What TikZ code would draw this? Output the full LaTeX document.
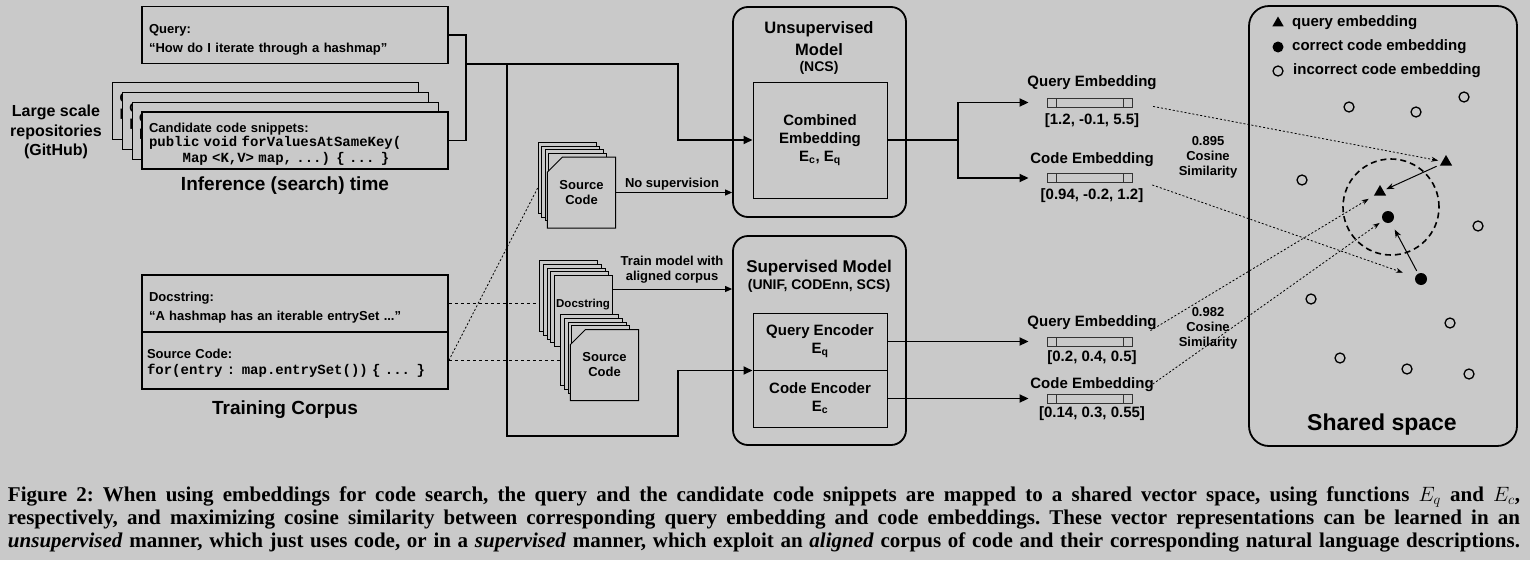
\documentclass[tikz,border=0pt]{standalone}
\usepackage{fontspec}
\setmainfont{Liberation Serif}
\setsansfont{Liberation Sans}
\setmonofont{Liberation Mono}
\usetikzlibrary{positioning,shapes.geometric,shapes.misc,arrows.meta}
\definecolor{bggray}{RGB}{201,201,201}

\newcommand{\codeln}[1]{{\ttfamily\fontsize{14}{19}\selectfont #1}}
\newcommand{\candtext}{\rule{0pt}{16.5pt}Candidate code snippets:\\[-5pt]\codeln{public void forValuesAtSameKey(}\\[-3pt]\codeln{\hspace*{33.6pt}Map <K,V> map, ...) \{ ... \}}}

\tikzset{
  txtbox/.style={draw,line width=1.6pt,fill=bggray,minimum width=306pt,minimum height=57pt,inner sep=0pt,text width=292pt,align=left,font=\sffamily\bfseries\fontsize{13}{19}\selectfont},
  modelbox/.style={draw,line width=1.8pt,rounded corners=15pt,minimum width=173pt,inner sep=0pt},
  innerbox/.style={draw,line width=1pt,minimum width=134pt,inner sep=0pt,align=center,font=\sffamily\bfseries\fontsize{15}{18}\selectfont},
  doccard/.style={draw,line width=1pt,fill=bggray,chamfered rectangle,chamfered rectangle corners=north west,chamfered rectangle xsep=13pt,minimum width=58pt,minimum height=71pt,inner sep=0pt,align=center,font=\sffamily\bfseries\fontsize{13}{15}\selectfont},
  embbar/.style={draw=black!80,line width=0.9pt,minimum width=85pt,minimum height=9pt,inner sep=0pt,
    path picture={\draw[black!80,line width=0.9pt] ([xshift=9pt]path picture bounding box.north west) -- ([xshift=9pt]path picture bounding box.south west)
      ([xshift=-9pt]path picture bounding box.north east) -- ([xshift=-9pt]path picture bounding box.south east);}},
  emblbl/.style={font=\sffamily\bfseries\fontsize{15}{18}\selectfont,inner sep=0pt},
  smalllbl/.style={align=center,font=\sffamily\bfseries\fontsize{13}{15}\selectfont,inner sep=0pt},
  conn/.style={line width=1.8pt},
  arr/.style={-{Triangle[length=9pt,width=8pt]}},
  thinarr/.style={line width=1pt,-{Triangle[length=7pt,width=6pt]}},
  dashln/.style={line width=0.8pt,dash pattern=on 3pt off 3pt},
  dotln/.style={line width=0.8pt,dash pattern=on 2pt off 2pt},
  simarr/.style={dotln,-{Stealth[length=7pt,width=5pt]}},
  movearr/.style={line width=1pt,-{Stealth[length=8pt,width=6pt]}},
  opencirc/.style={circle,draw,line width=1.3pt,minimum size=10pt,inner sep=0pt},
  dotc/.style={circle,fill=black,minimum size=12pt,inner sep=0pt},
  tri/.style={regular polygon,regular polygon sides=3,fill=black,minimum size=14pt,inner sep=0pt},
  legtxt/.style={anchor=west,font=\sffamily\bfseries\fontsize{15}{18}\selectfont,inner sep=0pt},
}

\begin{document}
\begin{tikzpicture}[x=1pt,y=-1pt]
\fill [bggray] (0,0) rectangle (1530,560);
\useasboundingbox (0,0) rectangle (1530,560);

% inference time
\node (query) [txtbox] at (295,35) {\rule{0pt}{19.5pt}Query:\\``How do I iterate through a hashmap''};
\foreach \i in {3,2,1}
  \node (cand\i) [txtbox,line width=1.3pt] at ({295-9.8*\i},{140.5-9.8*\i}) {\candtext};
\node (cand) [txtbox] at (295,140.5) {\candtext};
\node (repo) [align=center,font=\sffamily\bfseries\fontsize{16}{19.5}\selectfont] at (56,132) {Large scale\\repositories\\(GitHub)};
\node (inftime) [font=\sffamily\bfseries\fontsize{19}{22}\selectfont] at (285,186) {Inference (search) time};

% training corpus
\node (corpdoc) [txtbox] at (295,303.5) {\rule{0pt}{17.5pt}Docstring:\\``A hashmap has an iterable entrySet ...''};
\node (corpsrc) [txtbox,text width=296pt] at (295,360.5) {\rule{0pt}{14.7pt}Source Code:\\[-3pt]\codeln{for(entry : map.entrySet()) \{ ... \}}};
\node (traincorp) [font=\sffamily\bfseries\fontsize{19}{22}\selectfont] at (285,410) {Training Corpus};

% document stacks
\foreach \i in {4,3,2,1}
  \node (srcA\i) [doccard] at ({581.5-3.6*\i},{192.5-3.6*\i}) {};
\node (srcA) [doccard] at (581.5,192.5) {Source\\Code};
\foreach \i in {4,3,2,1}
  \node (docA\i) [doccard] at ({583.5-3.7*\i},{311-3.7*\i}) {};
\node (docA) [doccard] at (583.5,311) {};
\node (docAtxt) [font=\sffamily\bfseries\fontsize{11.5}{13}\selectfont] at (583,305) {Docstring};
\foreach \i in {4,3,2,1}
  \node (srcB\i) [doccard] at ({604.5-3.7*\i},{365-3.7*\i}) {};
\node (srcB) [doccard] at (604.5,365) {Source\\Code};

% models
\node (unsup) [modelbox,minimum height=210pt] at (819.5,112) {};
\node (unsupttl) [align=center,font=\sffamily\bfseries\fontsize{16.5}{22}\selectfont] at (819,39) {Unsupervised\\Model};
\node (ncs) [font=\sffamily\bfseries\fontsize{14}{16}\selectfont] at (819,68) {(NCS)};
\node (comb) [innerbox,minimum height=116pt] at (820,140) {Combined\\Embedding\\E\textsubscript{c}, E\textsubscript{q}};

\node (sup) [modelbox,minimum height=209pt] at (819.5,340.5) {};
\node (supttl) [font=\sffamily\bfseries\fontsize{17}{20}\selectfont] at (819,268) {Supervised Model};
\node (supsub) [font=\sffamily\bfseries\fontsize{14}{16}\selectfont] at (819,286) {(UNIF, CODEnn, SCS)};
\node (qenc) [innerbox,minimum height=57pt] at (820,341.5) {Query Encoder\\E\textsubscript{q}};
\node (cenc) [innerbox,minimum height=57pt] at (820,398.5) {Code Encoder\\E\textsubscript{c}};

% embeddings
\node (qembA) [embbar] at (1089.5,102.5) {};
\node (qembAlbl) [emblbl] at (1092,83) {Query Embedding};
\node (qembAval) [emblbl] at (1092,121) {[1.2, -0.1, 5.5]};
\node (cembA) [embbar] at (1089.5,178) {};
\node (cembAlbl) [emblbl] at (1092,160) {Code Embedding};
\node (cembAval) [emblbl] at (1092,196) {[0.94, -0.2, 1.2]};
\node (qembB) [embbar] at (1089.5,341.5) {};
\node (qembBlbl) [emblbl] at (1092,323) {Query Embedding};
\node (qembBval) [emblbl] at (1092,358) {[0.2, 0.4, 0.5]};
\node (cembB) [embbar] at (1089.5,398.5) {};
\node (cembBlbl) [emblbl] at (1092,385) {Code Embedding};
\node (cembBval) [emblbl] at (1092,414) {[0.14, 0.3, 0.55]};
\node (cosA) [smalllbl] at (1208,157) {0.895\\Cosine\\Similarity};
\node (cosB) [smalllbl] at (1208,328) {0.982\\Cosine\\Similarity};

% shared space
\node (shared) [draw,line width=1.8pt,rounded corners=20pt,minimum width=268pt,minimum height=440pt] at (1383,226) {};
\node (legtri) [tri,minimum size=13pt] at (1278,23) {};
\node (legdot) [dotc,minimum size=11pt] at (1278,47) {};
\node (legopen) [opencirc] at (1278,71) {};
\node (legtrilbl) [legtxt] at (1292,23) {query embedding};
\node (legdotlbl) [legtxt] at (1292,47) {correct code embedding};
\node (legopenlbl) [legtxt] at (1293,71) {incorrect code embedding};
\foreach \x/\y [count=\n] in {1349/107,1416/112,1464/97,1302/180,1478/226,1311/299,1450/323,1340/358,1407/369,1469/374}
  \node (inc\n) [opencirc] at (\x,\y) {};
\node (zone) [circle,draw,line width=1.6pt,dash pattern=on 6pt off 4pt,minimum size=96pt] at (1391,207) {};
\node (tri1) [tri] at (1446,162) {};
\node (tri2) [tri] at (1380,192) {};
\node (dot1) [dotc] at (1388,217) {};
\node (dot2) [dotc] at (1421,279) {};
\node (sharedlbl) [font=\sffamily\bfseries\fontsize{23}{26}\selectfont] at (1382,425) {Shared space};

% connectors
\coordinate (qjoin) at (466,64);
\coordinate (sjoin) at (507,64);
\coordinate (ubend) at (678,140);
\coordinate (sbend) at (678,436);
\coordinate (fork) at (958,140);
\draw [conn] (query.east) -| (qjoin) |- (cand.east);
\draw [conn,arr] (qjoin) -| (ubend) -- (comb.west);
\draw [conn,arr] (sjoin) |- (sbend) |- (qenc.south west);
\draw [conn] (comb.east) -- (fork);
\draw [conn,arr,shorten >=18pt] (fork) |- (qembA.west);
\draw [conn,arr,shorten >=18pt] (fork) |- (cembA.west);
\draw [conn,arr,shorten >=18pt] (qenc.east) -- (qembB.west);
\draw [conn,arr,shorten >=18pt] (cenc.east) -- (cembB.west);

\draw [thinarr] (srcA.east) -- (srcA.east -| unsup.west);
\node (nosup) [smalllbl] at (672,184) {No supervision};
\draw [thinarr] ([yshift=22pt]docA.east) -- ([yshift=22pt]docA.east -| sup.west);
\node (trainlbl) [smalllbl] at (672,269.5) {Train model with\\aligned corpus};

\draw [dashln] (corpdoc.east) -- (corpdoc.east -| docA4.west);
\draw [dashln] (corpsrc.east) -- (corpsrc.east -| srcB4.west);
\draw [dotln] (corpsrc.east) -- ([yshift=-10pt]srcA4.west);

\draw [simarr,shorten <=21pt,shorten >=4pt] (qembA.east) -- (tri1);
\draw [simarr,shorten <=21pt,shorten >=13pt] (cembA.east) -- (dot2);
\draw [simarr,shorten <=21pt,shorten >=6pt] (qembB.east) -- (tri2);
\draw [simarr,shorten <=21pt,shorten >=4pt] (cembB.east) -- (dot1);
\draw [movearr,shorten <=4pt,shorten >=3pt] (tri1) -- (tri2);
\draw [movearr,shorten <=3pt,shorten >=8pt] (dot2) -- (dot1);
%\draw [movearr] (inc6) -- (dot1);

% caption
\node (capt) [inner sep=0pt,font=\bfseries\fontsize{21}{23}\selectfont] at (764,519) {\parbox{1512pt}{\frenchspacing\parfillskip=0pt Figure 2: When using embeddings for code search, the query and the candidate code snippets are mapped to a shared vector space, using functions $E_q$ and $E_c$,\linebreak respectively, and maximizing cosine similarity between corresponding query embedding and code embeddings. These vector representations can be learned in an\linebreak \textit{unsupervised} manner, which just uses code, or in a \textit{supervised} manner, which exploit an \textit{aligned} corpus of code and their corresponding natural language descriptions.\par}};
\end{tikzpicture}
\end{document}
